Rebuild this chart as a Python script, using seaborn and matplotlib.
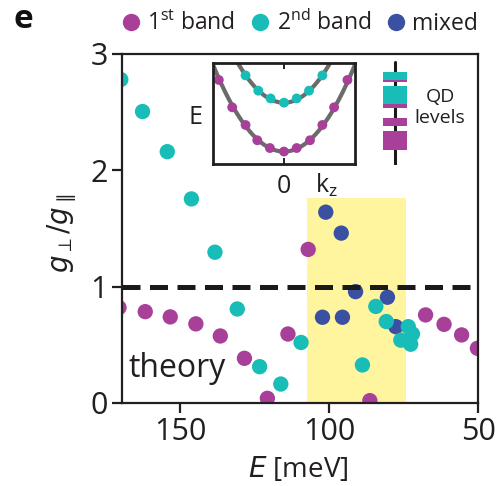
import matplotlib
matplotlib.use("Agg")
import numpy as np
import pandas as pd
import matplotlib.pyplot as plt
from matplotlib.lines import Line2D
from matplotlib.patches import Rectangle
import seaborn as sns

# ---- g-factor anisotropy of the QD levels vs. level energy ----
band1_E = [170.5, 161.7, 153.3, 144.7, 136.5, 128.4, 120.7, 113.8, 107.0, 86.3, 67.6, 61.4, 55.5, 50.2]
band1_g = [0.82, 0.785, 0.74, 0.68, 0.576, 0.384, 0.04, 0.593, 1.32, 0.02, 0.757, 0.676, 0.585, 0.47]
band2_E = [169.9, 162.6, 154.3, 146.2, 138.3, 130.8, 123.3, 116.2, 109.4, 88.8, 84.3, 80.8, 73.4, 72.0, 75.9, 72.6]
band2_g = [2.78, 2.505, 2.16, 1.754, 1.296, 0.808, 0.312, 0.163, 0.52, 0.327, 0.83, 0.70, 0.656, 0.593, 0.54, 0.505]
mixed_E = [101.1, 95.9, 91.1, 80.4, 102.2, 95.5, 77.6]
mixed_g = [1.64, 1.46, 0.957, 0.909, 0.737, 0.737, 0.656]

# energy window where the bands mix
window_E = (107.4, 74.2)
window_top = 1.76
isotropic_ratio = 1.0

x_ticks = [150, 100, 50]
y_ticks = [0, 1, 2, 3]

# ---- inset: dispersion E(k_z) of the two bands ----
k1_dots = [-0.918, -0.729, -0.541, -0.376, -0.198, 0.0, 0.179, 0.367, 0.541, 0.706, 0.894]
E1_dots = [0.832, 0.561, 0.386, 0.235, 0.158, 0.123, 0.158, 0.235, 0.386, 0.561, 0.832]
k2_dots = [-0.541, -0.362, -0.188, 0.0, 0.179, 0.353, 0.541]
E2_dots = [0.877, 0.726, 0.649, 0.607, 0.649, 0.726, 0.877]
band1_min, band1_curv = 0.123, 0.86
band2_min, band2_curv = 0.607, 0.93

# ---- QD level ladder: (top, height, band) ----
qd_levels = [(12, 8, "b2"), (20, 2.5, "b1"), (26, 18, "b2"), (44, 4, "b1"),
             (58, 8, "b1"), (71, 19, "b1")]

C1 = "#A8409A"
C2 = "#19BDB8"
CM = "#3A50A2"
YEL = "#FFF59E"
INK = "#231F20"

sns.set_theme(style="ticks")
plt.rcParams["font.family"] = ["Open Sans", "DejaVu Sans"]
plt.rcParams["mathtext.fontset"] = "dejavusans"
plt.rcParams["text.color"] = INK
plt.rcParams["axes.labelcolor"] = INK
plt.rcParams["xtick.color"] = INK
plt.rcParams["ytick.color"] = INK

df = pd.concat([
    pd.DataFrame({"E": band1_E, "g": band1_g, "kind": "1st band"}),
    pd.DataFrame({"E": mixed_E, "g": mixed_g, "kind": "mixed"}),
    pd.DataFrame({"E": band2_E, "g": band2_g, "kind": "2nd band"}),
], ignore_index=True)
palette = {"1st band": C1, "2nd band": C2, "mixed": CM}

fig = plt.figure(figsize=(5.01, 4.86), dpi=100)
ax = fig.add_axes([0.2435, 0.1708, 0.7106, 0.7182])

ax.fill_betweenx([0, window_top], window_E[0], window_E[1], color=YEL, lw=0, zorder=0)
sns.scatterplot(data=df, x="E", y="g", hue="kind", palette=palette, s=122,
                edgecolor="none", linewidth=0, legend=False, ax=ax, zorder=2)
ax.axhline(isotropic_ratio, color="#1a1a1a", lw=3.6, dashes=(3.6, 1.9), zorder=3)

ax.set_xlim(169.5, 50)
ax.set_ylim(0, 3)
ax.set_xticks(x_ticks)
ax.set_yticks(y_ticks)
ax.tick_params(labelsize=22, length=7, width=1.6, pad=3)
for sp in ax.spines.values():
    sp.set_linewidth(1.6)
    sp.set_color(INK)
    sp.set_visible(True)

ax.set_xlabel(r"$\mathit{E}$ [meV]", fontsize=20, va="center")
ax.xaxis.set_label_coords(0.494, -0.19)
ax.set_ylabel(r"$g_{\perp}/g_{\parallel}$", fontsize=20, va="center")
ax.yaxis.set_label_coords(-0.169, 0.487)

ax.text(0.017, 0.0745, "theory", transform=ax.transAxes, fontsize=23,
        va="baseline", ha="left", zorder=4)

# legend above the frame
handles = [Line2D([], [], ls="none", marker="o", ms=12.5, mfc=c, mec="none")
           for c in (C1, C2, CM)]
labels = [r"1$^\mathregular{st}$ band", r"2$^\mathregular{nd}$ band", "mixed"]
fig.legend(handles, labels, loc="center", bbox_to_anchor=(300 / 501, 1 - 23 / 486),
           ncol=3, frameon=False, fontsize=16.5, handlelength=0.8,
           handletextpad=0.3, columnspacing=0.7, borderaxespad=0, borderpad=0)

fig.text(23 / 501, 1 - 19 / 486, "e", fontsize=24, fontweight="bold",
         ha="center", va="center", color="#111111")

# ---- inset dispersion ----
axi = fig.add_axes([0.4251, 0.6626, 0.2834, 0.2078])
kk = np.linspace(-1.0, 1.0, 200)
axi.plot(kk, band1_min + band1_curv * kk ** 2, color="#6b6b6b", lw=3.0, zorder=1)
axi.plot(kk, band2_min + band2_curv * kk ** 2, color="#6b6b6b", lw=3.0, zorder=1)
sns.scatterplot(x=k1_dots, y=E1_dots, color=C1, s=50, edgecolor="none", ax=axi, zorder=2)
sns.scatterplot(x=k2_dots, y=E2_dots, color=C2, s=50, edgecolor="none", ax=axi, zorder=2)
axi.set_xlim(-1, 1)
axi.set_ylim(0, 1)
axi.set_xticks([0])
axi.set_xticklabels(["0"])
axi.set_yticks([])
axi.tick_params(axis="x", direction="in", length=4, width=1.4, labelsize=18,
                top=True, pad=7)
for sp in axi.spines.values():
    sp.set_linewidth(2.0)
    sp.set_color(INK)
axi.set_ylabel("E", rotation=0, fontsize=18, va="center", ha="center")
axi.yaxis.set_label_coords(-0.12, 0.465)
axi.text(0.80, -0.21, r"k$_\mathregular{z}$", transform=axi.transAxes,
         fontsize=18, ha="center", va="center")
axi.set_facecolor("white")

# ---- QD level ladder ----
axq = fig.add_axes([380 / 501, 1 - 165 / 486, 30 / 501, 105 / 486])
axq.set_xlim(0, 30)
axq.set_ylim(105, 0)
axq.axis("off")
axq.plot([15, 15], [2, 105], color="#1a1a1a", lw=2.2, zorder=1)
for top, h, band in qd_levels:
    axq.add_patch(Rectangle((3, top), 24, h, color=C2 if band == "b2" else C1,
                            lw=0, zorder=2))
fig.text(440 / 501, 1 - 97 / 486, "QD", fontsize=14, ha="center", va="center")
fig.text(440 / 501, 1 - 118 / 486, "levels", fontsize=14, ha="center", va="center")

fig.savefig("out.png", dpi=100)
